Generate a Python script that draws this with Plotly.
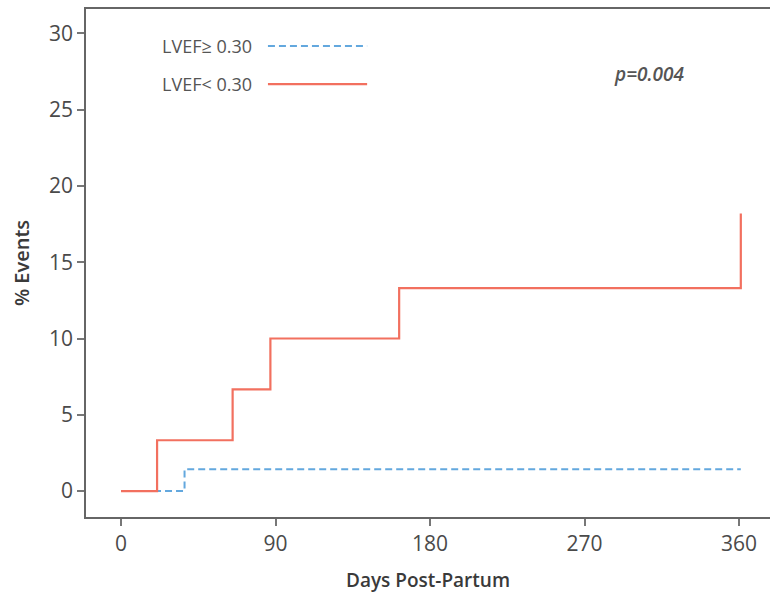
import plotly.graph_objects as go

# Data
days_low = [0, 21, 65, 87, 162, 361, 361]
events_low = [0, 3.33, 6.67, 10.0, 13.3, 13.3, 18.2]
days_high = [0, 37, 361]
events_high = [0, 1.43, 1.43]
x_ticks = [0, 90, 180, 270, 360]
y_ticks = [0, 5, 10, 15, 20, 25, 30]
labels = ["LVEF\u2265 0.30", "LVEF< 0.30"]
p_text = "p=0.004"

RED = "#F2705F"
BLUE = "#63A8DE"
FONT = "Open Sans"

fig = go.Figure()
fig.add_trace(go.Scatter(x=days_high, y=events_high, mode="lines", line_shape="hv",
                         line=dict(color=BLUE, width=2, dash="7px,4px"), name=labels[0],
                         showlegend=False))
fig.add_trace(go.Scatter(x=days_low, y=events_low, mode="lines", line_shape="hv",
                         line=dict(color=RED, width=2.2), name=labels[1],
                         showlegend=False))

# legend drawn manually (text before line)
leg_y = [0.927, 0.852]
styles = [dict(color=BLUE, width=2, dash="7px,4px"), dict(color=RED, width=2.2)]
for lab, yy, st in zip(labels, leg_y, styles):
    fig.add_annotation(x=0.245, y=yy, xref="paper", yref="paper", text=lab,
                       showarrow=False, xanchor="right", yanchor="middle",
                       font=dict(family=FONT, size=18, color="#555"))
    fig.add_shape(type="line", xref="paper", yref="paper", x0=0.266, x1=0.411,
                  y0=yy, y1=yy, line=st)

fig.add_annotation(x=0.823, y=0.872, xref="paper", yref="paper",
                   text="<i>" + p_text + "</i>", showarrow=False,
                   xanchor="center", yanchor="middle",
                   font=dict(family=FONT, size=19, color="#555", weight=600))

fig.update_layout(
    width=770, height=597,
    margin=dict(l=86, r=0, t=9, b=80),
    plot_bgcolor="white", paper_bgcolor="white",
    font=dict(family=FONT, color="#444"),
    xaxis=dict(range=[-20.4, 378], tickvals=x_ticks, ticks="outside", ticklen=7,
               tickcolor="#777", tickwidth=1.5, showline=True, linecolor="#666",
               linewidth=1.5, mirror=True, showgrid=False, zeroline=False,
               tickfont=dict(family=FONT, size=21, color="#4a4a4a"),
               title=dict(text="Days Post-Partum", standoff=18,
                          font=dict(family=FONT, size=19, color="#3a3a3a", weight=600))),
    yaxis=dict(range=[-1.7, 31.6], tickvals=y_ticks, ticks="outside", ticklen=7,
               tickcolor="#777", tickwidth=1.5, showline=True, linecolor="#666",
               linewidth=1.5, showgrid=False, zeroline=False,
               tickfont=dict(family=FONT, size=21, color="#4a4a4a"),
               title=dict(text="% Events", standoff=14,
                          font=dict(family=FONT, size=20, color="#3a3a3a", weight=600))),
)

fig.write_html("out.html", config={"displayModeBar": False},
               post_script="document.body.style.margin='0';document.body.style.overflow='hidden';")
